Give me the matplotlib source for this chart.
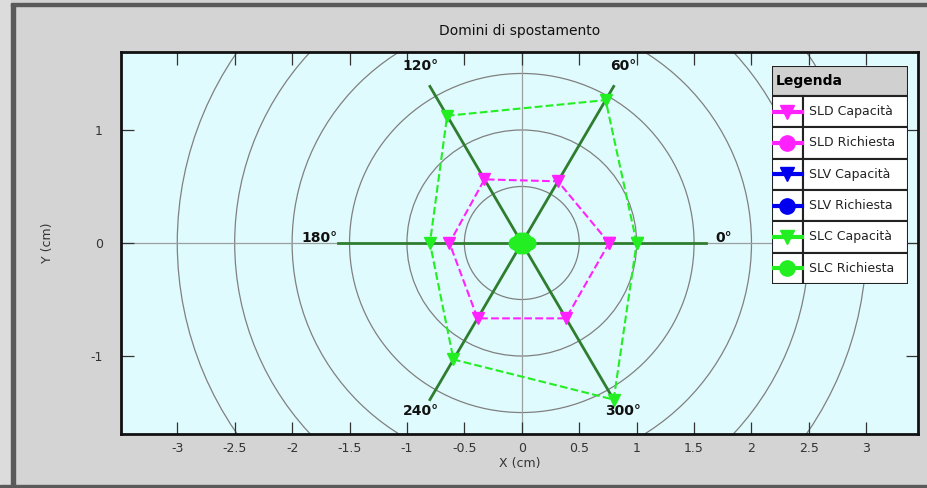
# -*- coding: utf-8 -*-
import numpy as np
import matplotlib
matplotlib.use('Agg')
import matplotlib.pyplot as plt
from matplotlib.patches import Circle, Rectangle
from matplotlib.lines import Line2D

# directions (deg) and displacement domains (cm)
angles = [0, 60, 120, 180, 240, 300]
angle_labels = ['0°', '60°', '120°', '180°', '240°', '300°']
sld_cap = [0.76, 0.63, 0.65, 0.63, 0.77, 0.77]
sld_req = [0.03, 0.03, 0.03, 0.03, 0.03, 0.03]
slv_cap = []
slv_req = []
slc_cap = [1.00, 1.46, 1.30, 0.80, 1.19, 1.60]
slc_req = [0.06, 0.04, 0.04, 0.06, 0.04, 0.04]

ring_radii = [0.5, 1.0, 1.5, 2.0, 2.5, 3.0]
spoke_len = 1.6
x_ticks = [-3, -2.5, -2, -1.5, -1, -0.5, 0, 0.5, 1, 1.5, 2, 2.5, 3]
y_ticks = [-1, 0, 1]

legend_names = ['SLD Capacità', 'SLD Richiesta', 'SLV Capacità',
                'SLV Richiesta', 'SLC Capacità', 'SLC Richiesta']
legend_colors = ['#ff22ff', '#ff22ff', '#0000ee', '#0000ee', '#22ee22', '#22ee22']
legend_markers = ['v', 'o', 'v', 'o', 'v', 'o']


def toXY(angs, radii):
  a = np.radians(angs[:len(radii)])
  r = np.asarray(radii, dtype=float)
  x = list(r * np.cos(a))
  y = list(r * np.sin(a))
  if len(x):
    x.append(x[0])
    y.append(y[0])
  return x, y


W, H = 928, 488
fig = plt.figure(figsize=(W / 100, H / 100), dpi=100)
fig.patch.set_facecolor('#d4d4d4')

# window frame
fig.patches.append(Rectangle((0, 0), 10 / W, 1, transform=fig.transFigure,
                             color='#dcdcdc', zorder=0))
fig.patches.append(Rectangle((11 / W, 0), 4 / W, 1 - 4 / H, transform=fig.transFigure,
                             color='#5a5a5a', zorder=1))
fig.patches.append(Rectangle((11 / W, 1 - 6 / H), 1, 3 / H, transform=fig.transFigure,
                             color='#5a5a5a', zorder=1))
fig.patches.append(Rectangle((0, 0), 1, 3 / H, transform=fig.transFigure,
                             color='#5a5a5a', zorder=1))

ax = fig.add_axes([121 / W, 54 / H, 797 / W, 382 / H])
ax.set_facecolor('#e0fbfd')
ax.set_xlim(-3.49, 3.45)
ax.set_ylim(-1.69, 1.69)

for r in ring_radii:
  ax.add_patch(Circle((0, 0), r, fill=False, ec='#808080', lw=0.9, zorder=1))
ax.axhline(0, color='#9aa0a0', lw=0.9, zorder=1)
ax.axvline(0, color='#9aa0a0', lw=0.9, zorder=1)

# spokes and labels
for a, lab in zip(angles, angle_labels):
  t = np.radians(a)
  ax.plot([0, spoke_len * np.cos(t)], [0, spoke_len * np.sin(t)],
          color='#2f7d2f', lw=2, zorder=2)
  ax.text(1.76 * np.cos(t), 1.76 * np.sin(t) + 0.04, lab, ha='center', va='center',
          fontsize=10, fontweight='bold', color='#111111', zorder=5)

series = [sld_cap, sld_req, slv_cap, slv_req, slc_cap, slc_req]
for vals, c, m in zip(series, legend_colors, legend_markers):
  x, y = toXY(angles, vals)
  if not len(x):
    continue
  ax.plot(x, y, color=c, ls='--', lw=1.5, marker=m,
          markersize=8 if m == 'v' else 9, zorder=4)

ax.set_xticks(x_ticks)
ax.set_xticklabels(['%g' % v for v in x_ticks])
ax.set_yticks(y_ticks)
ax.set_yticklabels(['%g' % v for v in y_ticks])
ax.tick_params(direction='in', length=9, width=0.9, top=True, right=True,
               labelsize=9, labelcolor='#333333', color='#333333', pad=6)
ax.tick_params(axis='y', pad=13)
for s in ax.spines.values():
  s.set_linewidth(2)
  s.set_color('#111111')

ax.set_xlabel('X (cm)', fontsize=9, color='#333333', labelpad=1)
ax.set_ylabel('Y (cm)', fontsize=9, color='#333333', labelpad=26)
fig.text(520 / W, 1 - 31 / H, 'Domini di spostamento', ha='center', va='center',
         fontsize=10, color='#111111')

# legend table
lx0, ly0, lw_, lh = 772, 66, 136, 218
lax = fig.add_axes([lx0 / W, 1 - (ly0 + lh) / H, lw_ / W, lh / H])
lax.set_xlim(0, lw_)
lax.set_ylim(lh, 0)
lax.axis('off')
head = 30
row = (lh - head) / 6.0
cell = 31
lax.add_patch(Rectangle((0, 0), lw_, head, fc='#d0d0d0', ec='#222222', lw=1.5))
lax.text(4, head / 2, 'Legenda', fontsize=10, fontweight='bold', va='center', ha='left')
for i, (name, c, m) in enumerate(zip(legend_names, legend_colors, legend_markers)):
  y0 = head + i * row
  lax.add_patch(Rectangle((0, y0), cell, row, fc='white', ec='#222222', lw=1.5))
  lax.add_patch(Rectangle((cell, y0), lw_ - cell, row, fc='white', ec='#222222', lw=1.5))
  lax.add_line(Line2D([1, cell - 1], [y0 + row / 2] * 2, color=c, lw=3,
                      marker=None))
  lax.add_line(Line2D([cell / 2], [y0 + row / 2], color=c, marker=m,
                      markersize=10 if m == 'v' else 11, ls='none'))
  lax.text(cell + 6, y0 + row / 2, name, fontsize=9, va='center', ha='left',
           color='#222222')

fig.savefig('out.png', dpi=100, facecolor=fig.get_facecolor())
